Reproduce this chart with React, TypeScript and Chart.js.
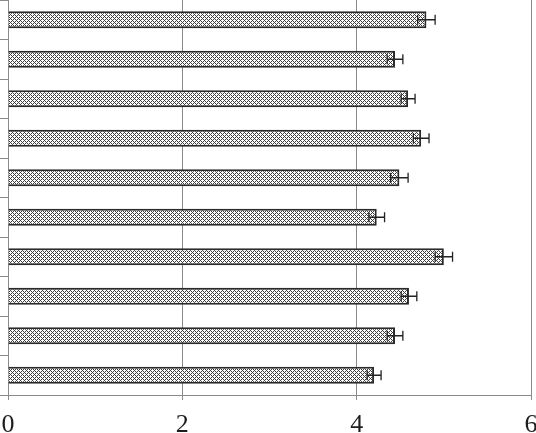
import React, { useEffect, useRef } from "react";
import { Chart, registerables } from "chart.js";

Chart.register(...registerables);

const categories = ["1", "2", "3", "4", "5", "6", "7", "8", "9", "10"];
const values = [4.8, 4.44, 4.59, 4.74, 4.49, 4.23, 5.0, 4.6, 4.44, 4.2];
const errors = [0.1, 0.09, 0.08, 0.09, 0.1, 0.09, 0.1, 0.09, 0.09, 0.08];
const xTicks = [0, 2, 4, 6];

function makePattern(): CanvasPattern | string {
  const c = document.createElement("canvas");
  c.width = 4;
  c.height = 4;
  const ctx = c.getContext("2d");
  if (!ctx) return "#aaa";
  ctx.fillStyle = "#ffffff";
  ctx.fillRect(0, 0, 4, 4);
  ctx.fillStyle = "#3c3c3c";
  for (let x = 0; x < 4; x++) {
    for (let y = 0; y < 4; y++) {
      if ((x + y) % 4 === 0 || (x - y + 4) % 4 === 0) ctx.fillRect(x, y, 1, 1);
    }
  }
  const p = ctx.createPattern(c, "repeat");
  return p || "#aaa";
}

const errorBarPlugin = {
  id: "errorBars",
  afterDatasetsDraw(chart: any) {
    const ctx = chart.ctx;
    const meta = chart.getDatasetMeta(0);
    const xs = chart.scales.x;
    ctx.save();
    ctx.strokeStyle = "#222";
    ctx.lineWidth = 1.3;
    meta.data.forEach((el: any, i: number) => {
      const y = el.y;
      const x1 = xs.getPixelForValue(values[i] - errors[i]);
      const x2 = xs.getPixelForValue(values[i] + errors[i]);
      ctx.beginPath();
      ctx.moveTo(x1, y);
      ctx.lineTo(x2, y);
      ctx.moveTo(x1, y - 5);
      ctx.lineTo(x1, y + 5);
      ctx.moveTo(x2, y - 5);
      ctx.lineTo(x2, y + 5);
      ctx.stroke();
    });
    ctx.restore();
  },
};

export default function App() {
  const ref = useRef<HTMLCanvasElement>(null);
  useEffect(() => {
    if (!ref.current) return;
    const chart = new Chart(ref.current, {
      type: "bar",
      data: {
        labels: categories,
        datasets: [
          {
            data: values,
            backgroundColor: makePattern() as any,
            borderColor: "#2a2a2a",
            borderWidth: 2,
            categoryPercentage: 1,
            barPercentage: 0.43,
          },
        ],
      },
      options: {
        indexAxis: "y",
        animation: false,
        responsive: false,
        maintainAspectRatio: false,
        layout: { padding: 0 },
        plugins: { legend: { display: false }, tooltip: { enabled: false } },
        scales: {
          x: {
            type: "linear",
            min: 0,
            max: 6,
            afterBuildTicks: (s: any) => {
              s.ticks = xTicks.map((v) => ({ value: v }));
            },
            afterFit: (s: any) => {
              s.height = 38;
              s.paddingRight = 5;
              s.paddingLeft = 0;
            },
            ticks: {
              font: { family: "Liberation Serif", size: 26, lineHeight: 1 },
              color: "#1e1e1e",
              padding: 12,
            },
            grid: { color: "#8a8a8a", lineWidth: 1, tickLength: 5 },
            border: { color: "#8a8a8a", width: 1 },
          },
          y: {
            type: "category",
            afterFit: (s: any) => {
              s.width = 8;
            },
            ticks: { display: false },
            grid: { drawOnChartArea: false, tickLength: 8, color: "#8a8a8a", offset: true },
            border: { color: "#8a8a8a", width: 1 },
          },
        },
      },
      plugins: [errorBarPlugin],
    });
    return () => chart.destroy();
  }, []);
  return (
    <div style={{ position: "fixed", left: 0, top: 0, width: 536, height: 433, background: "#fff" }}>
      <canvas ref={ref} width={536} height={433} style={{ width: 536, height: 433 }} />
    </div>
  );
}
